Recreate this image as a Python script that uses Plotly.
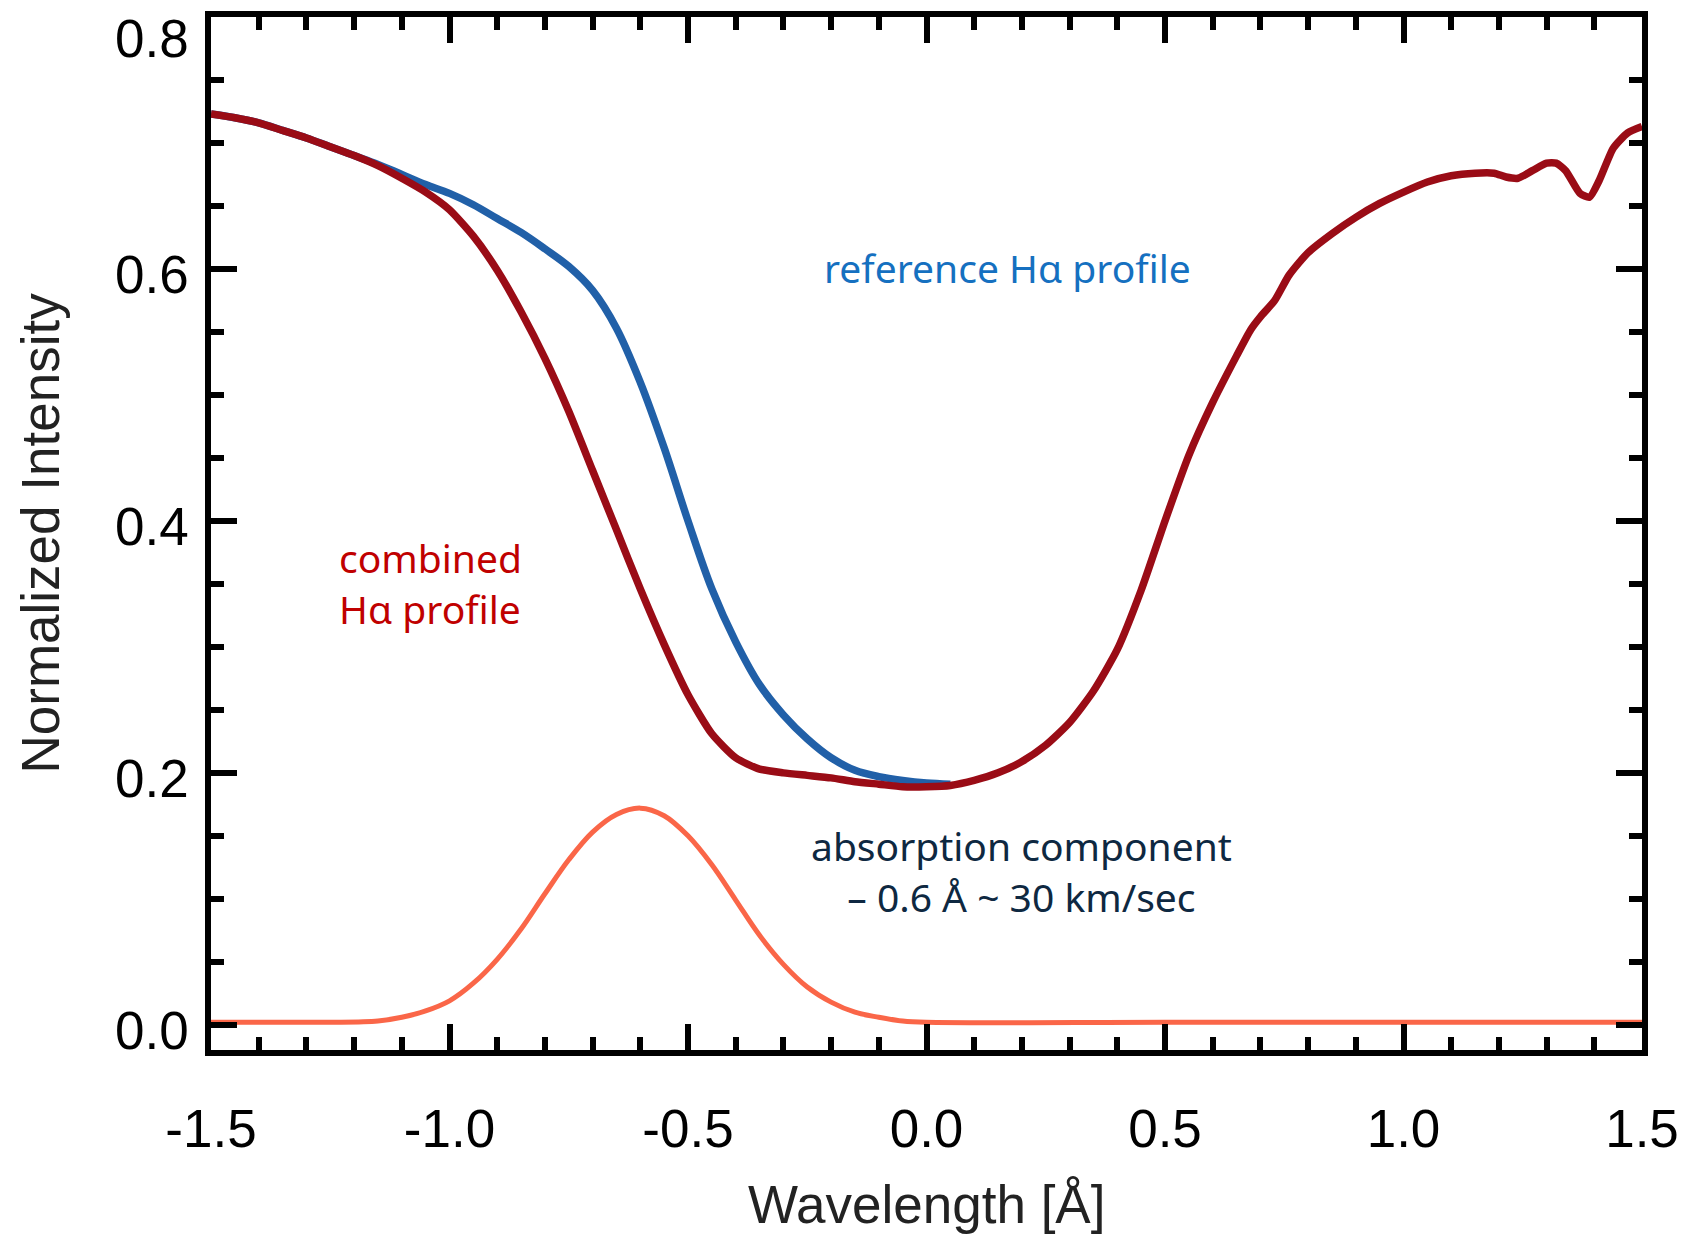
import plotly.graph_objects as go

# ---------------- data ----------------
combined_x = [-1.5, -1.45, -1.4, -1.35, -1.3, -1.25, -1.2, -1.15, -1.1, -1.05, -1.0, -0.95, -0.9,
              -0.85, -0.8, -0.75, -0.7, -0.65, -0.6, -0.55, -0.5, -0.45, -0.4, -0.35, -0.3, -0.25,
              -0.2, -0.15, -0.1, -0.05, 0.0, 0.05, 0.1, 0.15, 0.2, 0.25, 0.3, 0.35, 0.4, 0.45, 0.5,
              0.55, 0.6, 0.65, 0.68, 0.7, 0.73, 0.76, 0.8, 0.85, 0.9, 0.95, 1.0, 1.05, 1.1, 1.15,
              1.19, 1.215, 1.24, 1.27, 1.3, 1.32, 1.34, 1.37, 1.39, 1.41, 1.44, 1.47, 1.5]
combined_y = [0.723, 0.720, 0.716, 0.710, 0.704, 0.697, 0.690, 0.682, 0.672, 0.661, 0.647, 0.626, 0.599,
              0.566, 0.529, 0.487, 0.440, 0.393, 0.346, 0.302, 0.262, 0.231, 0.212, 0.203, 0.200, 0.198,
              0.196, 0.193, 0.191, 0.189, 0.189, 0.190, 0.194, 0.200, 0.209, 0.222, 0.240, 0.265, 0.298, 0.345, 0.400,
              0.452, 0.494, 0.531, 0.552, 0.562, 0.575, 0.595, 0.613, 0.628, 0.641, 0.652, 0.661, 0.669, 0.674, 0.676,
              0.676, 0.673, 0.672, 0.678, 0.684, 0.684, 0.678, 0.660, 0.657, 0.670, 0.696, 0.708, 0.713]

reference_x = [-1.5, -1.45, -1.4, -1.35, -1.3, -1.25, -1.2, -1.15, -1.1, -1.05, -1.0, -0.95, -0.9,
               -0.85, -0.8, -0.75, -0.7, -0.65, -0.6, -0.55, -0.5, -0.45, -0.4, -0.35, -0.3, -0.25,
               -0.2, -0.15, -0.1, -0.05, 0.0, 0.05]
reference_y = [0.723, 0.720, 0.716, 0.710, 0.704, 0.697, 0.690, 0.683, 0.675, 0.667, 0.660, 0.651, 0.640,
               0.629, 0.616, 0.602, 0.583, 0.553, 0.510, 0.458, 0.400, 0.346, 0.304, 0.270, 0.246, 0.227,
               0.212, 0.202, 0.197, 0.194, 0.192, 0.191]

absorption_x = [-1.5, -1.35, -1.25, -1.15, -1.1, -1.05, -1.0, -0.95, -0.9, -0.85, -0.8, -0.75, -0.7,
                -0.65, -0.6, -0.55, -0.5, -0.45, -0.4, -0.35, -0.3, -0.25, -0.2, -0.15, -0.1, -0.05,
                0.0, 0.5, 1.0, 1.5]
absorption_y = [0.002, 0.002, 0.002, 0.003, 0.006, 0.011, 0.019, 0.033, 0.052, 0.076, 0.104, 0.131, 0.153,
                0.167, 0.172, 0.166, 0.150, 0.127, 0.099, 0.071, 0.048, 0.030, 0.018, 0.010, 0.006, 0.003,
                0.002, 0.002, 0.002, 0.002]

x_tickvals = [-1.5, -1.0, -0.5, 0.0, 0.5, 1.0, 1.5]
x_ticktext = ["-1.5", "-1.0", "-0.5", "0.0", "0.5", "1.0", "1.5"]
y_tickvals = [0.0, 0.2, 0.4, 0.6, 0.8]
y_ticktext = ["0.0", "0.2", "0.4", "0.6", "0.8"]

x_title = "Wavelength [Å]"
y_title = "Normalized Intensity"

# ---------------- figure ----------------
fig = go.Figure()
fig.add_trace(go.Scatter(x=reference_x, y=reference_y, mode="lines",
                         line=dict(color="#2160A8", width=7.5, shape="spline", smoothing=1.0),
                         showlegend=False, hoverinfo="skip"))
fig.add_trace(go.Scatter(x=combined_x, y=combined_y, mode="lines",
                         line=dict(color="#9A0C16", width=7.5, shape="spline", smoothing=0.6),
                         showlegend=False, hoverinfo="skip"))
fig.add_trace(go.Scatter(x=absorption_x, y=absorption_y, mode="lines",
                         line=dict(color="#FA6648", width=5, shape="spline", smoothing=1.0),
                         showlegend=False, hoverinfo="skip"))

tickfont = dict(family="Liberation Sans, Arial, sans-serif", size=53, color="#000000")

fig.update_xaxes(range=[-1.5, 1.5], showgrid=False, zeroline=False,
                 showline=True, linecolor="#000000", linewidth=6, mirror="ticks",
                 ticks="inside", ticklen=26, tickwidth=6, tickcolor="#000000",
                 tickvals=x_tickvals, ticktext=x_ticktext, tickfont=tickfont,
                 ticklabelstandoff=27,
                 minor=dict(ticks="inside", ticklen=13, tickwidth=6, tickcolor="#000000", dtick=0.1, tick0=0))
fig.update_yaxes(range=[-0.02, 0.8], showgrid=False, zeroline=False,
                 showline=True, linecolor="#000000", linewidth=6, mirror="ticks",
                 ticks="inside", ticklen=26, tickwidth=6, tickcolor="#000000",
                 tickvals=y_tickvals, showticklabels=False,
                 minor=dict(ticks="inside", ticklen=13, tickwidth=6, tickcolor="#000000", dtick=0.05, tick0=0))

annotations = []
top_val = max(y_tickvals)
for v, t in zip(y_tickvals, y_ticktext):
    annotations.append(dict(x=0, xref="paper", y=v, yref="y", text=t, showarrow=False,
                            xanchor="right", yanchor="middle", xshift=-20,
                            yshift=(-21 if v == top_val else -6), font=tickfont))

annotations.append(dict(x=0.5, xref="paper", y=0, yref="paper", text=x_title, showarrow=False,
                        xanchor="center", yanchor="middle", yshift=-154,
                        font=dict(family="Liberation Sans, Arial, sans-serif", size=53, color="#222222")))
annotations.append(dict(x=0, xref="paper", y=0.5, yref="paper", text=y_title, showarrow=False,
                        textangle=-90, xanchor="center", yanchor="middle", xshift=-171,
                        font=dict(family="Liberation Sans, Arial, sans-serif", size=53, color="#222222")))

label_font = "Noto Sans, Open Sans, sans-serif"
annotations.append(dict(x=0.169, y=0.601, xref="x", yref="y", text="reference Hα profile",
                        showarrow=False, xanchor="center", yanchor="middle",
                        font=dict(family=label_font, size=39, color="#1570C0")))
annotations.append(dict(x=-1.236, y=0.351, xref="x", yref="y", text="combined<br>Hα profile",
                        showarrow=False, xanchor="left", yanchor="middle", align="left",
                        font=dict(family=label_font, size=39, color="#C00000")))
annotations.append(dict(x=0.200, y=0.122, xref="x", yref="y",
                        text="absorption component<br>– 0.6 Å ~ 30 km/sec",
                        showarrow=False, xanchor="center", yanchor="middle", align="center",
                        font=dict(family=label_font, size=39, color="#0E2841")))

# the page body has an 8px default margin, so the figure is sized to fit the window
fig.update_layout(width=1680, height=1231, autosize=False,
                  margin=dict(l=203, r=46, t=3, b=189),
                  paper_bgcolor="#ffffff", plot_bgcolor="#ffffff",
                  annotations=annotations)

fig.write_html("out.html")
